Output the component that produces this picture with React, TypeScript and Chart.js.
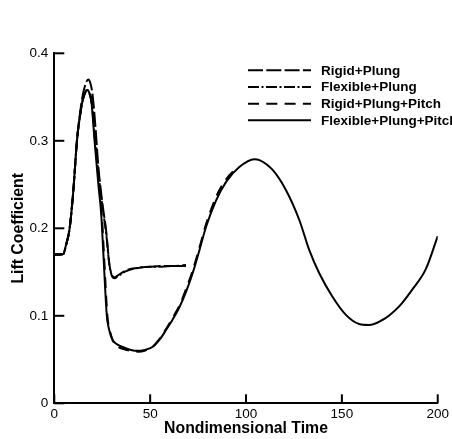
import React, { useEffect, useRef } from "react";
import { Chart, registerables } from "chart.js";

Chart.register(...registerables);

// ---------- data ----------
const SERIES_LABELS = ["Rigid+Plung", "Flexible+Plung", "Rigid+Plung+Pitch", "Flexible+Plung+Pitch"];

const X_TICKS = [0, 50, 100, 150, 200];
const X_TICK_LABELS = ["0", "50", "100", "150", "200"];
const Y_TICKS = [0, 0.1, 0.2, 0.3, 0.4];
const Y_TICK_LABELS = ["0", "0.1", "0.2", "0.3", "0.4"];

// Rigid+Plung (long dash)
const rpT = [0, 3, 4.8, 6, 8, 10, 11.8, 13.5, 15, 16.5, 17.7, 18.8, 20, 21.5, 23, 25, 27, 28.8, 30, 31.4, 33, 37.5, 44.4, 50, 56, 62, 68.7];
const rpV = [0.170, 0.170, 0.171, 0.18, 0.20, 0.245, 0.30, 0.333, 0.354, 0.366, 0.370, 0.366, 0.352, 0.315, 0.27, 0.23, 0.198, 0.158, 0.147, 0.144, 0.146, 0.152, 0.155, 0.156, 0.157, 0.157, 0.158];

// Flexible+Plung (dash-dot)
const fpT = [0, 3, 4.8, 6, 8, 10, 11.8, 13.5, 15, 16.3, 17.2, 18.2, 19.5, 21, 23, 25, 27, 28.8, 30, 31.4, 33, 37.5, 44.4, 50, 56, 62, 68.7];
const fpV = [0.170, 0.170, 0.171, 0.18, 0.20, 0.245, 0.30, 0.33, 0.348, 0.356, 0.358, 0.355, 0.343, 0.307, 0.263, 0.226, 0.195, 0.157, 0.146, 0.143, 0.145, 0.151, 0.155, 0.156, 0.156, 0.157, 0.157];

// Rigid+Plung+Pitch (short dash)
const rppT = [0, 3, 4.8, 6, 8, 10, 11.8, 13.5, 15, 16.3, 17.2, 18.3, 19.7, 21.3, 23.3, 24.8, 25.8, 27.7, 28.8, 30.8, 33, 36, 40, 44, 47, 51.4, 55, 58.3, 61.8, 65.3, 68.8, 72.2, 75.7, 79.2, 84.4, 89.6, 95];
const rppV = [0.170, 0.170, 0.171, 0.18, 0.20, 0.245, 0.30, 0.33, 0.348, 0.356, 0.359, 0.356, 0.343, 0.30, 0.25, 0.215, 0.175, 0.10, 0.085, 0.070, 0.065, 0.062, 0.060, 0.059, 0.060, 0.065, 0.074, 0.085, 0.098, 0.112, 0.131, 0.152, 0.178, 0.205, 0.236, 0.256, 0.269];

// Flexible+Plung+Pitch (solid)
const fppT = [0, 3, 4.8, 6, 8, 10, 11.8, 13.5, 15, 16.3, 17.2, 18.2, 19.5, 21, 23, 24.5, 25.5, 27.4, 28.5, 30.5, 33, 36, 40, 43.5, 47, 51.4, 55, 58.3, 61.8, 65.3, 68.8, 72.2, 75.7, 79.2, 84.4, 89.6, 96.5, 104.3, 107, 113.9, 120.8, 127.8, 133, 138.2, 145.1, 152.1, 159, 164.2, 171.1, 175, 180, 186.7, 193.7, 200];
const fppV = [0.170, 0.170, 0.171, 0.18, 0.20, 0.245, 0.30, 0.33, 0.348, 0.356, 0.358, 0.355, 0.342, 0.30, 0.25, 0.215, 0.175, 0.10, 0.085, 0.072, 0.067, 0.064, 0.061, 0.060, 0.061, 0.0647, 0.073, 0.0838, 0.096, 0.110, 0.128, 0.149, 0.175, 0.202, 0.232, 0.253, 0.270, 0.279, 0.278, 0.2667, 0.2438, 0.2095, 0.175, 0.1486, 0.1218, 0.101, 0.0906, 0.0895, 0.0952, 0.101, 0.111, 0.130, 0.153, 0.191];

const FONT = "'Liberation Sans', Arial, Helvetica, sans-serif";

const DASHES = [[15, 3.3], [11, 2.5, 2, 2.5], [11, 7.3], []];

const inwardTicks = {
  id: "inwardTicks",
  afterDraw(chart: any) {
    const { ctx, chartArea, scales } = chart;
    ctx.save();
    ctx.strokeStyle = "#000";
    ctx.lineWidth = 2;
    ctx.setLineDash([]);
    scales.x.ticks.forEach((t: any) => {
      const px = scales.x.getPixelForValue(t.value);
      ctx.beginPath();
      ctx.moveTo(px, chartArea.bottom);
      ctx.lineTo(px, chartArea.bottom - 9);
      ctx.stroke();
    });
    scales.y.ticks.forEach((t: any) => {
      const py = scales.y.getPixelForValue(t.value);
      ctx.beginPath();
      ctx.moveTo(chartArea.left, py);
      ctx.lineTo(chartArea.left + 10, py);
      ctx.stroke();
    });
    ctx.restore();
  },
};

const lineLegend = {
  id: "lineLegend",
  afterDraw(chart: any) {
    const { ctx } = chart;
    const x0 = 248;
    const x1 = 311;
    const tx = 321;
    const rows = [70.3, 87, 103.7, 120.3];
    ctx.save();
    chart.data.datasets.forEach((ds: any, i: number) => {
      const y = rows[i];
      ctx.strokeStyle = "#000";
      ctx.lineWidth = 2;
      ctx.lineCap = "butt";
      ctx.setLineDash(ds.borderDash || []);
      ctx.beginPath();
      ctx.moveTo(x0, y);
      ctx.lineTo(x1, y);
      ctx.stroke();
      ctx.setLineDash([]);
      ctx.fillStyle = "#000";
      ctx.font = `bold 13.5px ${FONT}`;
      ctx.textAlign = "left";
      ctx.textBaseline = "middle";
      ctx.fillText(ds.label, tx, y + 0.7);
    });
    ctx.restore();
  },
};

export default function App() {
  const ref = useRef<HTMLCanvasElement>(null);

  useEffect(() => {
    document.body.style.margin = "0";
    const canvas = ref.current;
    if (!canvas) return;
    const toPts = (t: number[], v: number[]) => t.map((x, i) => ({ x, y: v[i] }));
    const series = [toPts(rpT, rpV), toPts(fpT, fpV), toPts(rppT, rppV), toPts(fppT, fppV)];

    const chart = new Chart(canvas, {
      type: "line",
      data: {
        datasets: series.map((d, i) => ({
          label: SERIES_LABELS[i],
          data: d,
          borderColor: "#000",
          backgroundColor: "#000",
          borderWidth: 2,
          borderDash: DASHES[i],
          pointRadius: 0,
          fill: false,
          cubicInterpolationMode: "monotone" as const,
        })),
      },
      options: {
        animation: false,
        responsive: false,
        devicePixelRatio: 1,
        layout: { padding: { top: 53.3, right: 13.7, left: 0, bottom: 0 } },
        plugins: {
          legend: { display: false },
          tooltip: { enabled: false },
        },
        scales: {
          x: {
            type: "linear",
            min: 0,
            max: 200,
            afterFit: (s: any) => {
              s.height = 35.7;
            },
            afterBuildTicks: (s: any) => {
              s.ticks = X_TICKS.map((v) => ({ value: v }));
            },
            ticks: {
              color: "#000",
              font: { family: FONT, size: 13.5 },
              padding: 3,
              maxRotation: 0,
              callback: (_v: any, i: number) => X_TICK_LABELS[i],
            },
            grid: { display: false, drawTicks: false },
            border: { display: true, color: "#000", width: 2 },
            title: {
              display: true,
              text: "Nondimensional Time",
              color: "#000",
              font: { family: FONT, size: 15.8, weight: "bold" },
              padding: { top: 0, bottom: 0.5 },
            },
          },
          y: {
            type: "linear",
            min: 0,
            max: 0.4,
            afterFit: (s: any) => {
              s.width = 54.3;
            },
            afterBuildTicks: (s: any) => {
              s.ticks = Y_TICKS.map((v) => ({ value: v }));
            },
            ticks: {
              color: "#000",
              font: { family: FONT, size: 13.5 },
              padding: 6,
              callback: (_v: any, i: number) => Y_TICK_LABELS[i],
            },
            grid: { display: false, drawTicks: false },
            border: { display: true, color: "#000", width: 2 },
            title: {
              display: true,
              text: "Lift Coefficient",
              color: "#000",
              font: { family: FONT, size: 15.8, weight: "bold" },
              padding: { top: 9.5, bottom: 0 },
            },
          },
        },
      },
      plugins: [inwardTicks, lineLegend],
    });

    return () => chart.destroy();
  }, []);

  return (
    <div style={{ width: 452, height: 439 }}>
      <canvas ref={ref} width={452} height={439} style={{ display: "block" }} />
    </div>
  );
}
